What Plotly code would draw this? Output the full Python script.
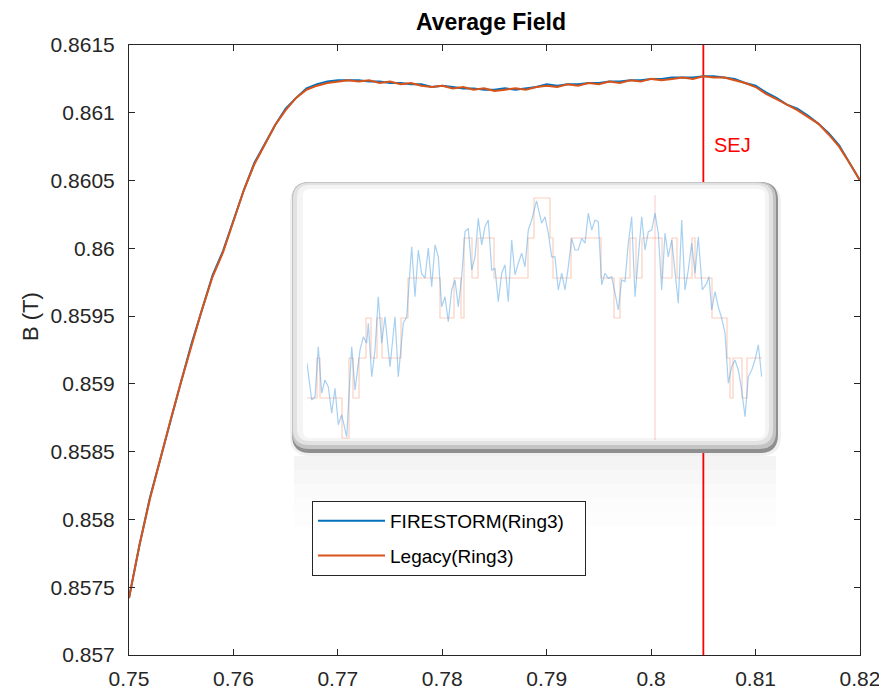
import numpy as np
import plotly.graph_objects as go

# ---- main traces: average field along the ring (T) ----
pos = np.round(np.linspace(0.75, 0.82, 71), 3)

firestorm_b = [
    0.85742, 0.85781, 0.85816, 0.85845, 0.85875, 0.85902, 0.85930, 0.85955, 0.85980, 0.85998,
    0.86021, 0.86043, 0.86063, 0.86077, 0.86091, 0.86103, 0.86111, 0.86118, 0.86121, 0.86123,
    0.86124, 0.86124, 0.86124, 0.86123, 0.86123, 0.86122, 0.86122, 0.86121, 0.86121, 0.86119,
    0.86120, 0.86119, 0.86118, 0.86118, 0.86117, 0.86117, 0.86118, 0.86117, 0.86118, 0.86119,
    0.86121, 0.86120, 0.86121, 0.86121, 0.86122, 0.86122, 0.86123, 0.86123, 0.86124, 0.86124,
    0.86125, 0.86125, 0.86126, 0.86126, 0.86126, 0.86127, 0.86127, 0.86126, 0.86125, 0.86122,
    0.86120, 0.86115, 0.86111, 0.86106, 0.86103, 0.86098, 0.86092, 0.86085, 0.86076, 0.86063,
    0.86050,
]
legacy_b = [
    0.85742, 0.85781, 0.85815, 0.85845, 0.85874, 0.85902, 0.85929, 0.85955, 0.85979, 0.85997,
    0.86020, 0.86043, 0.86062, 0.86076, 0.86091, 0.86102, 0.86111, 0.86117, 0.86120, 0.86122,
    0.86123, 0.86124, 0.86123, 0.86124, 0.86122, 0.86123, 0.86121, 0.86122, 0.86120, 0.86119,
    0.86120, 0.86118, 0.86119, 0.86117, 0.86118, 0.86116, 0.86117, 0.86118, 0.86117, 0.86119,
    0.86120, 0.86119, 0.86121, 0.86120, 0.86122, 0.86121, 0.86123, 0.86122, 0.86124, 0.86123,
    0.86125, 0.86124, 0.86125, 0.86126, 0.86125, 0.86127, 0.86126, 0.86126, 0.86124, 0.86122,
    0.86119, 0.86114, 0.86110, 0.86106, 0.86102, 0.86097, 0.86092, 0.86084, 0.86075, 0.86063,
    0.86050,
]
sej_pos = 0.805

x_ticks = [0.75, 0.76, 0.77, 0.78, 0.79, 0.80, 0.81, 0.82]
x_labels = ["0.75", "0.76", "0.77", "0.78", "0.79", "0.8", "0.81", "0.82"]
y_ticks = [0.857, 0.8575, 0.858, 0.8585, 0.859, 0.8595, 0.86, 0.8605, 0.861, 0.8615]
y_labels = ["0.857", "0.8575", "0.858", "0.8585", "0.859", "0.8595", "0.86", "0.8605", "0.861", "0.8615"]

# ---- zoomed detail of the plateau (raw samples vs. quantised legacy levels) ----
detail_t = [
    0, 4.7, 8, 11.3, 14.7, 18, 21.3, 24.7, 28, 31.3,
    34.7, 39.7, 44.7, 48, 53, 56.3, 59.7, 61.3, 64.7, 68,
    71.3, 74.7, 78, 83, 88, 91.3, 96.3, 99.7, 104.7, 108,
    111.3, 114.7, 118, 121.3, 124.7, 128, 131.3, 134.7, 138, 141.3,
    144.7, 148, 151.3, 154.7, 158, 161.3, 164.7, 168, 171.3, 174.7,
    178, 181.3, 184.7, 188, 191.3, 194.7, 198, 201.3, 204.7, 208,
    211.3, 214.7, 218, 221.3, 224.7, 229.5, 234.7, 238, 241.3, 244.7,
    248, 251.3, 254.7, 258, 261.3, 264.7, 268, 271.3, 274.7, 278,
    281.3, 284.7, 288, 291.3, 294.7, 298, 301.3, 304.7, 308, 311.3,
    314.7, 318, 321.3, 324.7, 328, 331.3, 334.7, 338, 341.3, 344.7,
    348, 351.3, 354.7, 358, 361.3, 364.7, 368, 371.3, 374.7, 378,
    381.3, 384.7, 388, 391.3, 395.3, 399.7, 402, 404.7, 408, 411.3,
    414.7, 418, 421.3, 424.7, 428, 431.3, 434.7, 438, 441.3, 444.7,
    448, 451.3, 454.7,
]
detail_firestorm = [
    1.87, 0.95, 1.03, 2.28, 1.12, 1.45, 1.28, 0.62, 1.24, 0.33,
    0.58, 0.03, 2.28, 1.2, 2.2, 2.53, 2.37, 2.87, 1.53, 2.2,
    3.53, 2.37, 3.03, 1.78, 3.03, 1.53, 2.87, 3.03, 4.78, 3.53,
    4.7, 4.1, 4.0, 4.75, 3.78, 4.83, 4.53, 3.28, 3.53, 2.91,
    3.7, 3.95, 3.28, 4.03, 5.16, 5.24, 4.2, 4.53, 5.49, 4.83,
    5.28, 5.45, 4.2, 4.24, 3.41, 4.12, 4.33, 3.41, 4.95, 4.08,
    4.37, 4.62, 4.28, 5.2, 5.45, 5.93, 5.37, 5.53, 5.12, 4.53,
    4.53, 3.7, 4.12, 3.7, 4.28, 4.99, 4.7, 4.7, 4.99, 4.87,
    5.62, 5.2, 5.45, 5.41, 3.83, 4.12, 3.99, 4.03, 3.62, 3.2,
    3.95, 3.91, 4.87, 5.53, 3.53, 4.53, 5.53, 4.7, 5.16, 5.2,
    5.62, 5.12, 3.7, 5.12, 4.53, 4.95, 4.12, 3.37, 5.45, 3.7,
    4.2, 4.87, 4.12, 5.03, 3.7, 3.87, 4.03, 3.2, 3.66, 3.28,
    2.99, 2.62, 1.37, 1.78, 1.95, 1.7, 1.2, 0.53, 1.53, 1.7,
    1.95, 2.33, 1.53,
]
detail_legacy_t = [
    0, 10, 13, 35, 42, 46, 52, 59, 64, 70, 75, 94, 101, 133, 147, 154, 157, 165,
    171, 187, 221, 227, 243, 246, 264, 294, 307, 313, 323, 329, 335, 355, 365,
    370, 385, 388, 405, 420, 423, 426, 435, 440, 455,
]
detail_legacy = [
    1, 2, 1, 0, 2, 1, 2, 3, 2, 3, 2, 3, 4, 3, 4, 3, 5, 4,
    5, 4, 5, 6, 5, 4, 5, 4, 3, 4, 5, 4, 5, 4, 5,
    4, 5, 4, 3, 2, 1, 2, 1, 2, 2,
]
detail_sej_t = 348

# ---- page geometry ----
FIG_W, FIG_H = 879, 692
ML, MR, MT, MB = 129, 19, 45, 37
PW, PH = FIG_W - ML - MR, FIG_H - MT - MB

FONT = "Liberation Sans, Arial, Helvetica, sans-serif"
INK = "#262626"
BLUE = "#0072BD"
ORANGE = "#D95319"


def fx(px):
    return (px - ML) / PW


def fy(py):
    return (FIG_H - MB - py) / PH


def rounded(x0, y0, x1, y1, r):
    rx, ry = r / PW, r / PH
    a, b, c, d = fx(x0), fy(y0), fx(x1), fy(y1)
    # b is the top edge (larger paper y), d the bottom edge
    return (
        f"M {a + rx},{b} L {c - rx},{b} Q {c},{b} {c},{b - ry} "
        f"L {c},{d + ry} Q {c},{d} {c - rx},{d} "
        f"L {a + rx},{d} Q {a},{d} {a},{d + ry} "
        f"L {a},{b - ry} Q {a},{b} {a + rx},{b} Z"
    )


fig = go.Figure()

fig.add_trace(go.Scatter(
    x=pos, y=firestorm_b, mode="lines", name="FIRESTORM(Ring3)&nbsp;&nbsp;&nbsp;",
    line=dict(color=BLUE, width=2), legendgroup="a",
))
fig.add_trace(go.Scatter(
    x=pos, y=legacy_b, mode="lines", name="Legacy(Ring3)",
    line=dict(color=ORANGE, width=2), legendgroup="b",
))

# detail panel traces
fig.add_trace(go.Scatter(
    x=[detail_sej_t, detail_sej_t], y=[-0.05, 6.07], mode="lines",
    line=dict(color="rgba(240,120,120,0.4)", width=1),
    xaxis="x2", yaxis="y2", showlegend=False, hoverinfo="skip",
))
fig.add_trace(go.Scatter(
    x=detail_legacy_t, y=detail_legacy, mode="lines", line_shape="hv",
    line=dict(color="rgba(240,130,90,0.4)", width=1.1),
    xaxis="x2", yaxis="y2", showlegend=False, hoverinfo="skip",
))
fig.add_trace(go.Scatter(
    x=detail_t, y=detail_firestorm, mode="lines",
    line=dict(color="rgba(60,150,225,0.45)", width=1.2),
    xaxis="x2", yaxis="y2", showlegend=False, hoverinfo="skip",
))

shapes = [
    # SEJ marker (the detail frame sits on top of it)
    dict(type="line", xref="x", yref="paper", x0=sej_pos, x1=sej_pos, y0=0, y1=1,
         line=dict(color="#FF0000", width=1.8), layer="below"),
]
# faint reflection under the panel
refl = [(456, 470, 0.045), (470, 484, 0.03), (484, 498, 0.02), (498, 512, 0.012), (512, 526, 0.006)]
for y0, y1, a in refl:
    shapes.append(dict(type="rect", xref="paper", yref="paper",
                       x0=fx(294), x1=fx(776), y0=fy(y1), y1=fy(y0),
                       fillcolor=f"rgba(0,0,0,{a})", line=dict(width=0), layer="below"))
# detail frame: beveled rounded panel
frame = [
    (290, 183, 781, 456, 20, "rgba(0,0,0,0.06)"),
    (292, 182, 778, 453, 18, "#8f8f8f"),
    (292, 182, 776, 449, 17, "#c4c4c4"),
    (293, 183, 773, 445, 16, "#e2e2e2"),
    (297, 185, 769, 441, 13, "#f4f4f4"),
    (303, 189, 765, 438, 7, "#ffffff"),
]
for x0, y0, x1, y1, r, col in frame:
    shapes.append(dict(type="path", xref="paper", yref="paper",
                       path=rounded(x0, y0, x1, y1, r), fillcolor=col,
                       line=dict(width=0), layer="below"))

annotations = [
    dict(text="SEJ", xref="x", yref="y", x=sej_pos, y=0.86076, xanchor="left",
         yanchor="middle", xshift=9, showarrow=False,
         font=dict(family=FONT, size=20, color="#FF0000")),
    dict(text="B (T)", xref="paper", yref="paper", x=fx(30), y=fy(316),
         xanchor="center", yanchor="middle", textangle=-90, showarrow=False,
         font=dict(family=FONT, size=22, color=INK)),
]

fig.update_layout(
    width=FIG_W, height=FIG_H,
    margin=dict(l=ML, r=MR, t=MT, b=MB, autoexpand=False),
    paper_bgcolor="white", plot_bgcolor="rgba(0,0,0,0)",
    title=dict(text="<b>Average Field</b>", x=491 / FIG_W, xanchor="center",
               y=1 - 22 / FIG_H, yanchor="middle",
               font=dict(family=FONT, size=23, color="#000000")),
    font=dict(family=FONT, size=21, color=INK),
    xaxis=dict(range=[0.75, 0.82], tickvals=x_ticks, ticktext=x_labels,
               showline=True, linecolor=INK, linewidth=1, mirror="ticks",
               ticks="inside", ticklen=6, tickcolor=INK, showgrid=False,
               zeroline=False, tickfont=dict(size=21, color=INK),
               ticklabelstandoff=5, ticklabeloverflow="allow", automargin=False),
    yaxis=dict(range=[0.857, 0.8615], tickvals=y_ticks, ticktext=y_labels,
               showline=True, linecolor=INK, linewidth=1, mirror="ticks",
               ticks="inside", ticklen=6, tickcolor=INK, showgrid=False,
               zeroline=False, tickfont=dict(size=21, color=INK),
               ticklabelstandoff=9, ticklabeloverflow="allow", automargin=False),
    xaxis2=dict(domain=[fx(307), fx(762)], range=[0, 455], visible=False,
                anchor="y2"),
    yaxis2=dict(domain=[fy(440), fy(195)], range=[-0.05, 6.075], visible=False,
                anchor="x2"),
    legend=dict(x=fx(312), y=fy(501), xanchor="left", yanchor="top",
                bgcolor="white", bordercolor=INK, borderwidth=1,
                font=dict(family=FONT, size=19, color="#000000"),
                itemwidth=67, tracegroupgap=7),
    shapes=shapes,
    annotations=annotations,
    showlegend=True,
)

fig.write_html("out.html")
